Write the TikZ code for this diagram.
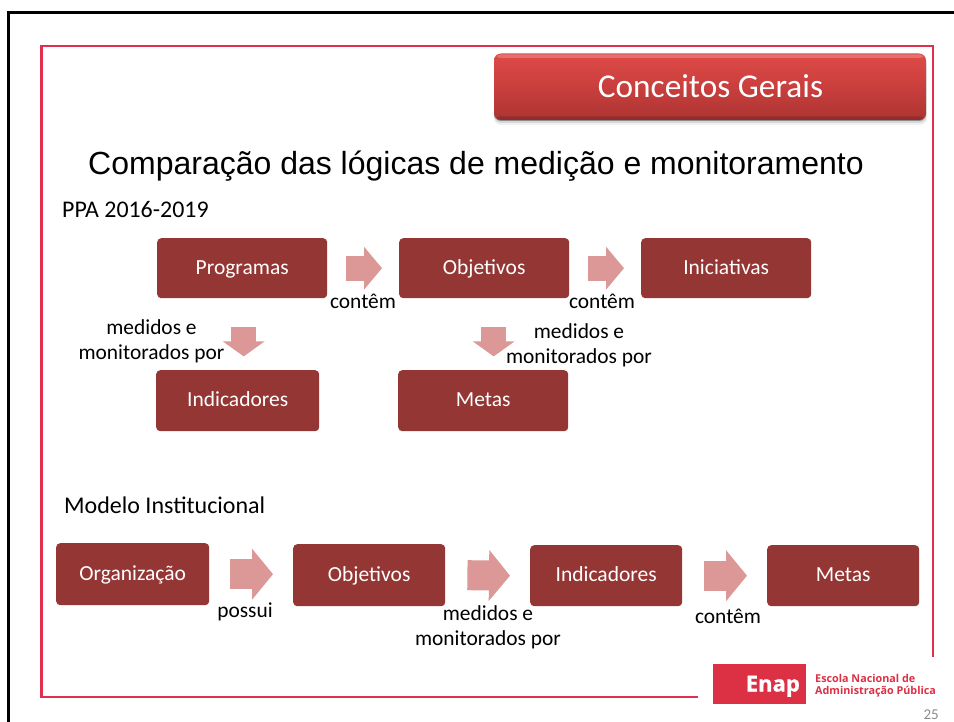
\documentclass[tikz,border=0pt]{standalone}
\usepackage{fontspec}
\setmainfont{Carlito}
\newfontfamily\titlefont{Liberation Sans}
\newfontfamily\logofont[BoldFeatures={FakeBold=1.2}]{Open Sans}
\newfontfamily\escolafont{Open Sans}
\usetikzlibrary{arrows.meta,shadows,calc}
\definecolor{boxred}{HTML}{943634}
\definecolor{arrowpink}{HTML}{DB9896}
\definecolor{framered}{HTML}{E1304F}
\definecolor{enapred}{HTML}{DC3045}
\definecolor{headtop}{HTML}{DE4A47}
\definecolor{headmid}{HTML}{C93F3D}
\definecolor{headbot}{HTML}{AB3432}
\tikzset{
  x=1pt,y=-1pt,
  flow/.style={draw=none,fill=boxred,rounded corners=4pt,text=white,font=\fontsize{21.5}{24}\selectfont,inner sep=0pt,anchor=north west,text height=12pt,text depth=0pt},
  lbl/.style={inner sep=0pt,font=\fontsize{21.4}{25.4}\selectfont,align=center,text=black},
  rarrow/.style={draw=arrowpink,line width=25pt,-{Triangle[length=18pt,width=42pt]}},
  barrow/.style={draw=arrowpink,line width=30pt,-{Triangle[length=21pt,width=50pt]}},
  darrow/.style={draw=arrowpink,line width=25pt,-{Triangle[length=15pt,width=41pt]}},
}
\begin{document}
\begin{tikzpicture}
\useasboundingbox (0,0) rectangle (954,722);
\fill[white] (0,0) rectangle (954,722);
% outer frame
\draw[black,line width=2.2pt] (8.5,722) -- (8.5,12.5) -- (954,12.5);
% red frame
\draw[framered,line width=2.4pt] (698,697) -- (41.5,697) -- (41.5,46) -- (933,46) -- (933,657);
% header
\fill[black,opacity=.06,rounded corners=7pt] (494,56) rectangle (927,125);
\fill[black,opacity=.10,rounded corners=7pt] (494,56) rectangle (926.5,123);
\fill[black,opacity=.35,rounded corners=7pt] (494,60) rectangle (926,121);
\shade[top color=headtop,bottom color=headbot,middle color=headmid,rounded corners=7pt]
  (494,53.5) rectangle (926,120);
\fill[white,opacity=.22,rounded corners=3pt] (497,54.5) rectangle (923,58);
\fill[black,opacity=.15,rounded corners=3pt] (497,116.5) rectangle (923,120);
\node[text=white,font=\fontsize{33.3}{36}\selectfont,inner sep=0pt] (head) at (710.5,86) {Conceitos Gerais};
% title
\node[font=\titlefont\fontsize{32}{34}\selectfont,inner sep=0pt,anchor=base] (title) at (476,175) {Comparação das lógicas de medição e monitoramento};
\node[lbl,anchor=base west,font=\fontsize{23.9}{26}\selectfont] (ppa) at (62,218) {PPA 2016-2019};
\node[lbl,anchor=base west,font=\fontsize{24}{26}\selectfont] (mi) at (64,513) {Modelo Institucional};
% PPA boxes
\node[flow,minimum width=170pt,minimum height=60pt] (prog) at (157,238) {Programas};
\node[flow,minimum width=170pt,minimum height=60pt] (obj) at (399,238) {Objetivos};
\node[flow,minimum width=170pt,minimum height=60pt] (ini) at (641,238) {Iniciativas};
\node[flow,minimum width=163pt,minimum height=61pt] (ind) at (156,370) {Indicadores};
\node[flow,minimum width=170pt,minimum height=61pt] (met) at (398,370) {Metas};
\draw[rarrow] ([xshift=19pt]prog.east) -- ([xshift=-17pt]obj.west);
\draw[rarrow] ([xshift=19pt]obj.east) -- ([xshift=-17pt]ini.west);
\draw[darrow] ([xshift=1.5pt,yshift=-29pt]prog.south) -- ([xshift=1.5pt,yshift=-58pt]prog.south);
\draw[darrow] ([xshift=9.5pt,yshift=-29pt]obj.south) -- ([xshift=9.5pt,yshift=-58pt]obj.south);
\node[lbl] (l1) at (363,301) {contêm};
\node[lbl] (l2) at (602,301) {contêm};
\node[lbl] (l3) at (151.5,341.5) {medidos e\\monitorados por};
\node[lbl] (l4) at (579,345.5) {medidos e\\monitorados por};
% bottom boxes
\node[flow,minimum width=153pt,minimum height=62pt] (org) at (56,543) {Organização};
\node[flow,minimum width=152pt,minimum height=62pt] (obj2) at (293,544) {Objetivos};
\node[flow,minimum width=152pt,minimum height=61pt] (ind2) at (530,545) {Indicadores};
\node[flow,minimum width=152pt,minimum height=61pt] (met2) at (767,545) {Metas};
\draw[barrow] ([xshift=21pt]org.east) -- ([xshift=-20pt,yshift=1pt]obj2.west);
\draw[barrow] ([xshift=22pt]obj2.east) -- ([xshift=-20pt]ind2.west);
\draw[barrow] ([xshift=22pt]ind2.east) -- ([xshift=-20pt]met2.west);
\node[lbl] (l5) at (245,612) {possui};
\node[lbl] (l6) at (488,627) {medidos e\\monitorados por};
\node[lbl] (l7) at (728,616) {contêm};
% footer
\node[fill=enapred,minimum width=93pt,minimum height=40pt,inner sep=0pt,anchor=north west] (enapbox) at (713,664) {};
\node[text=white,font=\logofont\bfseries\fontsize{22}{24}\selectfont,inner sep=0pt,anchor=base east] (enap) at (800,691.5) {Enap};
\node[text=enapred,font=\escolafont\bfseries\fontsize{10.8}{11.8}\selectfont,align=left,inner sep=0pt,anchor=west] (escola) at (815,686) {Escola Nacional de\\Administração Pública};
\node[text=black!45,font=\fontsize{15}{16}\selectfont,inner sep=0pt,anchor=east] (page) at (939,715) {25};
\end{tikzpicture}
\end{document}
